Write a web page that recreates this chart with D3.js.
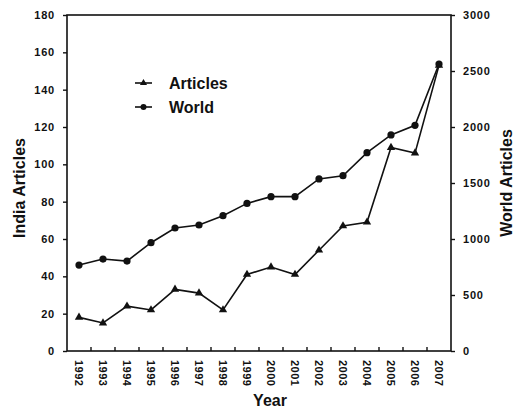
<!DOCTYPE html>
<html>
<head>
<meta charset="utf-8">
<script src="https://cdn.jsdelivr.net/npm/d3@7"></script>
<style>
  html, body { margin: 0; padding: 0; background: #fff; }
  svg { display: block; font-family: Arial, "Liberation Sans", sans-serif; }
</style>
</head>
<body>
<svg id="chart" width="516" height="408"></svg>
<script>
const years = ["1992","1993","1994","1995","1996","1997","1998","1999","2000","2001","2002","2003","2004","2005","2006","2007"];
const indiaArticles = [18, 15, 24, 22, 33, 31, 22, 41, 45, 41, 54, 67, 69, 109, 106, 153];
const worldArticles = [767, 821, 803, 967, 1098, 1125, 1208, 1318, 1378, 1378, 1536, 1565, 1771, 1929, 2015, 2562];
const leftTicks = [0, 20, 40, 60, 80, 100, 120, 140, 160, 180];
const rightTicks = [0, 500, 1000, 1500, 2000, 2500, 3000];

const svg = d3.select("#chart");
const m = { left: 67, right: 451, top: 15, bottom: 351 };

const x = d3.scaleBand().domain(years).range([m.left, m.right]);
const yL = d3.scaleLinear().domain([0, 180]).range([m.bottom, m.top]);
const yR = d3.scaleLinear().domain([0, 3000]).range([m.bottom, m.top]);
const cx = d => x(d) + x.bandwidth() / 2;

const ink = "#111";

// frame
svg.append("rect")
  .attr("x", m.left).attr("y", m.top)
  .attr("width", m.right - m.left).attr("height", m.bottom - m.top)
  .attr("fill", "none").attr("stroke", ink).attr("stroke-width", 1.6);

// left axis
const gL = svg.append("g").attr("transform", `translate(${m.left},0)`)
  .call(d3.axisLeft(yL).tickValues(leftTicks).tickFormat(d3.format("d")).tickSize(4).tickPadding(8));
// right axis
const gR = svg.append("g").attr("transform", `translate(${m.right},0)`)
  .call(d3.axisRight(yR).tickValues(rightTicks).tickFormat(d3.format("d")).tickSize(4).tickPadding(8));
// bottom ticks at band boundaries, pointing inward
const boundaries = years.slice(1).map(d => x(d));
svg.append("g").selectAll("line").data(boundaries).join("line")
  .attr("x1", d => d).attr("x2", d => d)
  .attr("y1", m.bottom).attr("y2", m.bottom - 4)
  .attr("stroke", ink).attr("stroke-width", 1.4);
// year labels, rotated
svg.append("g").selectAll("text").data(years).join("text")
  .attr("transform", d => `translate(${cx(d) - 4},${m.bottom + 9}) rotate(90)`)
  .attr("font-size", 11).attr("font-weight", "bold").attr("fill", ink)
  .attr("letter-spacing", 0.5)
  .text(d => d);

[gL, gR].forEach(g => {
  g.select(".domain").remove();
  g.selectAll(".tick line").attr("stroke", ink).attr("stroke-width", 1.4);
  g.selectAll(".tick text").attr("font-size", 11).attr("font-weight", "bold")
    .attr("fill", ink).attr("letter-spacing", 0.8);
});

// lines
const lineL = d3.line().x((d, i) => cx(years[i])).y(d => yL(d));
const lineR = d3.line().x((d, i) => cx(years[i])).y(d => yR(d));
svg.append("path").datum(indiaArticles).attr("d", lineL)
  .attr("fill", "none").attr("stroke", ink).attr("stroke-width", 1.6);
svg.append("path").datum(worldArticles).attr("d", lineR)
  .attr("fill", "none").attr("stroke", ink).attr("stroke-width", 1.6);

// markers
const tri = d3.symbol().type(d3.symbolTriangle).size(30);
svg.append("g").selectAll("path").data(indiaArticles).join("path")
  .attr("transform", (d, i) => `translate(${cx(years[i])},${yL(d)})`)
  .attr("d", tri).attr("fill", ink);
svg.append("g").selectAll("circle").data(worldArticles).join("circle")
  .attr("cx", (d, i) => cx(years[i])).attr("cy", d => yR(d))
  .attr("r", 3.6).attr("fill", ink);

// legend
const legend = svg.append("g");
const legItems = [{ label: "Articles", type: "tri", y: 83 }, { label: "World", type: "circle", y: 107 }];
legItems.forEach(it => {
  legend.append("line").attr("x1", 135).attr("x2", 152).attr("y1", it.y).attr("y2", it.y)
    .attr("stroke", ink).attr("stroke-width", 1.6);
  if (it.type === "tri") {
    legend.append("path").attr("transform", `translate(143.5,${it.y})`)
      .attr("d", d3.symbol().type(d3.symbolTriangle).size(22)).attr("fill", ink);
  } else {
    legend.append("circle").attr("cx", 143.5).attr("cy", it.y).attr("r", 3).attr("fill", ink);
  }
  legend.append("text").attr("x", 169).attr("y", it.y + 6)
    .attr("font-size", 16).attr("font-weight", "bold").attr("fill", ink)
    .text(it.label);
});

// axis titles
svg.append("text")
  .attr("transform", "translate(25,188) rotate(-90)")
  .attr("text-anchor", "middle").attr("font-size", 16).attr("font-weight", "bold").attr("fill", ink)
  .text("India Articles");
svg.append("text")
  .attr("transform", "translate(512,183) rotate(-90)")
  .attr("text-anchor", "middle").attr("font-size", 16).attr("font-weight", "bold").attr("fill", ink)
  .text("World Articles");
svg.append("text")
  .attr("x", 270).attr("y", 406)
  .attr("text-anchor", "middle").attr("font-size", 16).attr("font-weight", "bold").attr("fill", ink)
  .text("Year");
</script>
</body>
</html>
